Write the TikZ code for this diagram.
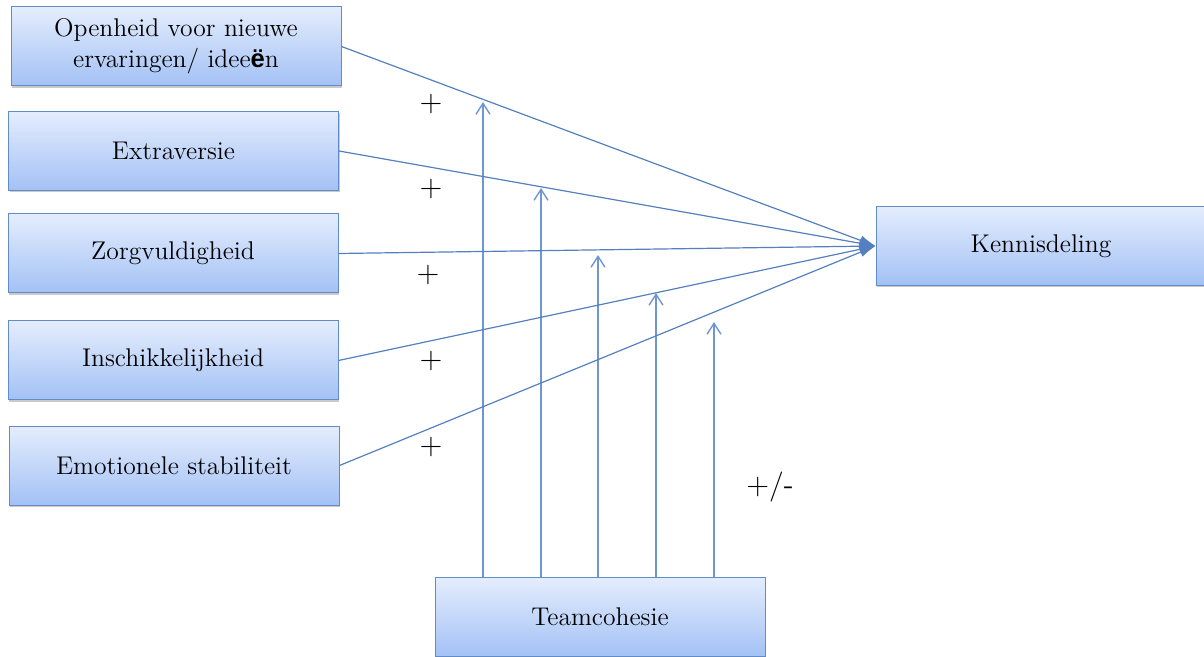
\documentclass[tikz,border=0pt]{standalone}
\usepackage{fontspec}
\newfontfamily\lsans{Liberation Sans}
\usetikzlibrary{arrows.meta,shadows}
\definecolor{boxtop}{RGB}{228,237,253}
\definecolor{boxbot}{RGB}{163,193,245}
\definecolor{boxline}{RGB}{98,140,200}
\definecolor{conn}{RGB}{84,128,192}
\definecolor{modc}{RGB}{112,150,210}
\tikzset{
  x=0.5pt, y=-0.5pt,
  box/.style={rectangle, draw=boxline, line width=0.5pt,
    top color=boxtop, bottom color=boxbot,
    minimum width=165pt, minimum height=39.5pt, inner sep=0pt,
    align=center, font=\fontsize{12.8}{15.5}\selectfont,
    drop shadow={shadow xshift=0.6pt, shadow yshift=-1pt, opacity=0.35, fill=black!60}},
  link/.style={draw=conn, line width=0.6pt, -{Latex[length=8pt,width=5pt]}},
  moder/.style={draw=modc, line width=0.7pt, -{Straight Barb[length=5.5pt,width=7pt]}},
  sign/.style={font=\sffamily\fontsize{15}{18}\selectfont, inner sep=0pt}
}
\begin{document}
\begin{tikzpicture}
\useasboundingbox (0,0) rectangle (1204,657);
\clip (0,0) rectangle (1204,657);
\node[box] (O) at (176,46.5) {Openheid voor nieuwe\\ervaringen/ idee{\lsans\bfseries ë}n};
\node[box] (E) at (173.5,151) {Extraversie};
\node[box] (Z) at (173,253.5) {Zorgvuldigheid};
\node[box] (I) at (173,360.5) {Inschikkelijkheid};
\node[box] (S) at (174,465.5) {Emotionele stabiliteit};
\node[box] (K) at (1041,246) {Kennisdeling};
\node[box] (T) at (600,617) {Teamcohesie};

\coordinate (t1) at (483,102);
\coordinate (t2) at (541,188);
\coordinate (t3) at (598,255);
\coordinate (t4) at (656,293);
\coordinate (t5) at (714,322);

\draw[moder] (t1 |- T.north) -- (t1);
\draw[moder] (t2 |- T.north) -- (t2);
\draw[moder] (t3 |- T.north) -- (t3);
\draw[moder] (t4 |- T.north) -- (t4);
\draw[moder] (t5 |- T.north) -- (t5);

\draw[link] (O.east) -- (K.west);
\draw[link] (E.east) -- (K.west);
\draw[link] (Z.east) -- (K.west);
\draw[link] (I.east) -- (K.west);
\draw[link] (S.east) -- (K.west);

\node[sign] (p1) at (431,104) {+};
\node[sign] (p2) at (431,189) {+};
\node[sign] (p3) at (428,275) {+};
\node[sign] (p4) at (431,361) {+};
\node[sign] (p5) at (431,447) {+};
\node[sign] (pm) at (770,487) {+/-};
\end{tikzpicture}
\end{document}
